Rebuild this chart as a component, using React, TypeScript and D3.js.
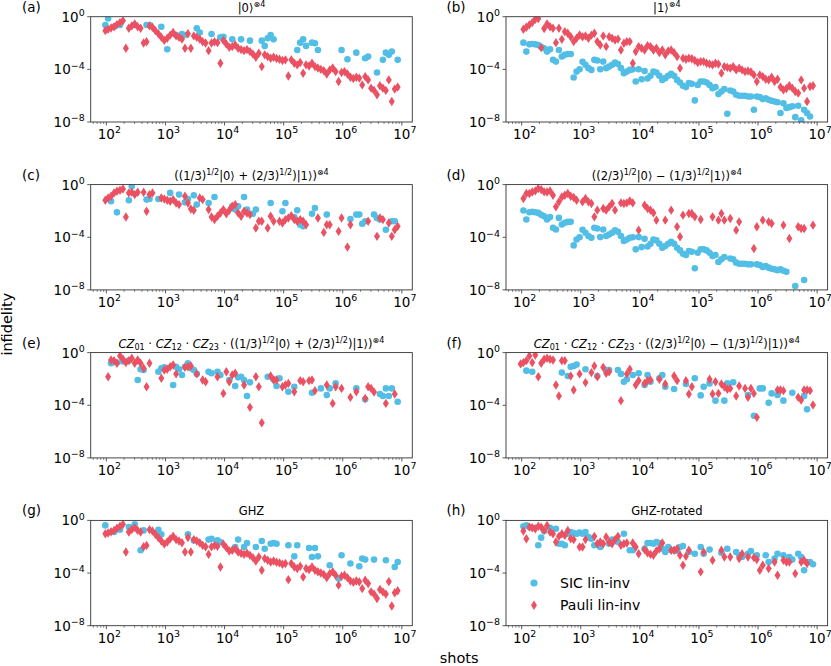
import React from "react";
import * as d3 from "d3";

// Shot counts (shared x grid)
const SHOTS: number[] = [
  96, 107, 120, 135, 151, 170, 191, 214, 240, 269, 302, 339, 380, 427, 479, 537, 603, 676, 759, 851,
  955, 1072, 1202, 1349, 1514, 1698, 1905, 2138, 2399, 2692, 3020, 3388, 3802, 4266, 4786, 5370, 6026, 6761, 7586, 8511,
  9550, 10715, 12023, 13490, 15136, 16982, 19055, 21380, 23988, 26915, 30200, 33884, 38019, 42658, 47863, 53703, 60256, 67608, 75858, 85114,
  95499, 107152, 120226, 134896, 151356, 169824, 190546, 213796, 239883, 269153, 301995, 338844, 380189, 426580, 478630, 537032, 602560, 676083, 758578, 851138,
  954993, 1071519, 1202264, 1348963, 1513561, 1698244, 1905461, 2137962, 2398833, 2691535, 3019952, 3388442, 3801894, 4265795, 4786301, 5370318, 6025596, 6760830, 7585776, 8511380,
];

// Series values: log10(infidelity). Dense = one value per shot index (null = not shown),
// Sparse = [shot index, log10(infidelity)] pairs.
type Dense = (number | null)[];
type Sparse = [number, number][];

const A_PAULI: Dense = [
  -1.06, -0.96, -0.86, -0.76, -0.6, -0.45, -0.3, -2.4, -0.88, -0.7,
  -0.55, -0.76, -0.88, -2.0, -1.9, -0.7, -0.8, -1.06, -1.3, -1.56,
  -1.8, -1.64, -1.4, -1.2, -1.46, -1.56, -1.7, -2.4, -1.3, -2.4,
  -1.46, -1.56, -1.7, -1.9, -2.0, -2.58, -2.0, -1.9, -1.97, -3.54,
  -1.8, -2.07, -2.32, -2.27, -2.15, -2.4, -2.5, -2.58, -2.5, -2.65,
  -2.83, -3.08, -2.78, -3.79, -2.9, -3.03, -3.16, -3.08, -3.18, -3.23,
  -3.33, -3.28, -4.5, -3.28, -3.54, -3.66, -3.48, -4.3, -3.66, -3.74,
  -3.54, -3.79, -3.9, -4.0, -4.1, -4.35, -4.04, -3.9, -4.17, -4.92,
  -4.24, -4.17, -4.35, -4.6, -4.7, -4.6, -4.67, -5.18, -4.55, -4.8,
  -5.43, -5.6, -5.93, -5.25, -5.43, -5.6, -4.8, -6.44, -5.5, -5.35,
];
const A_SIC: Sparse = [
  [0, -0.63], [1, -0.13], [3, -0.76], [5, -0.63], [10, -0.63], [14, -0.63], [15, -0.63], [19, -0.76],
  [21, -2.47], [24, -1.39], [26, -1.31], [27, -1.39], [31, -0.88], [32, -1.2], [36, -1.32], [39, -1.57],
  [40, -1.52], [43, -1.72], [46, -1.72], [49, -1.82], [53, -1.82], [54, -2.22], [55, -1.64], [56, -1.39],
  [57, -1.72], [65, -2.53], [66, -1.97], [67, -1.72], [68, -2.22], [70, -1.97], [71, -2.02], [72, -2.53],
  [80, -2.53], [82, -3.23], [85, -2.73], [88, -3.16], [89, -3.03], [92, -4.24], [94, -3.28], [95, -2.73],
  [96, -2.9], [97, -2.65], [99, -3.28],
];

const B_SIC: Dense = [
  null, -1.97, -2.65, -2.1, -2.07, -2.1, -2.15, -2.3, -2.4, -2.65,
  -2.47, -3.28, -3.41, -2.53, -3.03, -2.9, -2.83, -2.83, -4.62, -4.17,
  -4.0, -3.43, -3.66, -3.91, -4.04, -3.28, -3.33, -3.99, -3.41, -3.91,
  -3.79, -3.66, -3.48, -3.59, -3.91, -4.29, -4.17, -4.04, -4.0, -4.92,
  -3.99, -4.75, -4.12, -4.7, -4.49, -4.17, -4.24, -4.49, -4.8, -4.67,
  -4.49, -4.34, -4.49, -4.8, -5.0, -5.25, -5.35, -5.05, -5.1, -6.36,
  -5.18, -4.92, -4.92, -5.0, -5.18, -5.43, -5.35, -5.88, -5.68, -5.5,
  -7.37, -5.61, -5.68, -5.93, -6.01, -6.01, -6.01, -6.06, -6.06, -7.07,
  -6.06, -6.11, -6.26, -6.19, -6.31, -6.39, -6.44, -6.5, -7.32, -6.57,
  -6.94, -6.87, -6.8, -7.63, -6.77, -7.88, -7.07, -7.32, -7.58, null,
];
const B_PAULI: Dense = [
  null, -0.95, -0.8, -0.62, -0.45, -0.2, -0.15, -2.35, -0.9, -0.55,
  -0.76, -0.88, -1.97, -0.88, -1.72, -1.14, -1.26, -1.52, -1.89, -1.64,
  -1.39, -1.52, -1.46, -1.64, -1.4, -1.26, -1.89, -2.15, -1.46, -2.27,
  -1.52, -1.64, -1.77, -1.7, -2.53, -2.02, -1.89, -1.89, -3.54, -2.65,
  -2.27, -2.4, -2.53, -2.2, -2.27, -2.53, -2.4, -2.73, -2.53, -2.9,
  -2.6, -2.53, -2.73, -3.03, -3.91, -3.16, -3.23, -3.16, -3.2, -3.33,
  -3.48, -3.41, -3.41, -3.54, -3.59, -3.66, -3.54, -3.6, -4.29, -3.79,
  -3.85, -3.91, -3.79, -4.04, -3.91, -4.04, -4.17, -4.12, -4.2, -4.42,
  -4.92, -4.42, -4.55, -4.75, -4.8, -4.6, -4.92, -4.75, -5.35, -5.56,
  -5.45, -5.25, -5.43, -5.68, -5.81, -4.8, -5.43, -6.44, -5.3, -5.25,
];

const C_SIC: Sparse = [
  [2, -1.27], [4, -2.11], [8, -1.19], [9, -0.13], [14, -1.14], [15, -1.09], [18, -1.09], [22, -0.63],
  [25, -0.76], [27, -1.35], [28, -1.09], [30, -0.81], [31, -1.52], [35, -1.4], [37, -0.94], [43, -1.65],
  [44, -1.9], [45, -1.65], [47, -0.94], [48, -1.9], [50, -2.21], [51, -1.9], [56, -1.4], [60, -2.03],
  [61, -1.4], [64, -2.46], [65, -1.95], [66, -3.05], [67, -3.17], [70, -2.21], [71, -1.78], [75, -2.28],
  [83, -2.61], [85, -2.28], [86, -2.28], [87, -2.97], [88, -2.79], [91, -2.28], [92, -2.54], [93, -2.66],
  [95, -3.43], [97, -2.79], [98, -2.79],
];
const C_PAULI: Sparse = [
  [0, -1.19], [1, -1.02], [2, -0.89], [3, -0.63], [4, -0.51], [5, -0.43], [6, -0.33], [7, -2.46],
  [8, -0.63], [9, -0.58], [10, -0.76], [11, -0.58], [13, -0.58], [14, -2.03], [15, -0.76], [16, -0.63],
  [19, -1.02], [20, -1.09], [21, -1.19], [22, -1.27], [23, -1.14], [24, -1.4], [25, -1.52], [27, -0.89],
  [28, -1.4], [29, -1.85], [30, -1.95], [32, -1.02], [33, -1.14], [35, -1.9], [36, -2.46], [37, -2.66],
  [38, -2.41], [39, -2.16], [40, -1.9], [41, -2.21], [42, -1.95], [43, -1.65], [44, -1.52], [45, -2.16],
  [46, -2.41], [47, -2.03], [48, -2.16], [49, -2.28], [51, -3.3], [52, -2.79], [53, -2.79], [55, -3.3],
  [56, -2.41], [57, -2.79], [59, -2.79], [60, -2.92], [61, -2.66], [62, -2.54], [63, -2.36], [64, -2.66],
  [65, -2.79], [66, -2.66], [67, -2.79], [68, -3.05], [72, -2.54], [74, -3.63], [75, -3.05], [76, -3.05],
  [79, -3.55], [80, -2.54], [82, -4.75], [83, -3.05], [89, -2.79], [92, -3.93], [93, -2.54], [94, -2.66],
  [96, -2.92], [97, -3.93], [98, -3.43], [99, -3.17],
];

const D_SIC: Dense = [
  null, -1.97, -2.65, -2.1, -2.07, -2.1, -2.15, -2.3, -2.4, -2.65,
  -2.47, -3.28, -3.41, -2.53, -3.03, -2.9, -2.83, -2.83, -4.62, -4.17,
  -4.0, -3.43, -3.66, -3.91, -4.04, -3.28, -3.33, -3.99, -3.41, -3.91,
  -3.79, -3.66, -3.48, -3.59, -3.91, -4.29, -4.17, -4.04, -4.0, -4.92,
  -3.99, -4.75, -4.12, -4.7, -4.49, -4.17, -4.24, -4.49, -4.8, -4.67,
  -4.49, -4.34, -4.49, -4.8, -5.0, -5.25, -5.35, -5.05, -5.1, -6.36,
  -5.18, -4.92, -4.92, -5.0, -5.18, -5.43, -5.35, -5.88, -5.68, -5.5,
  null, -5.61, -5.68, -5.93, -6.01, -6.01, -6.01, -6.06, -6.06, null,
  -6.06, -6.11, -6.26, -6.19, -6.31, -6.39, -6.44, -6.5, -6.44, -6.55,
  -6.62, null, null, -7.7, null, null, -7.25, null, null, null,
];
const D_PAULI: Sparse = [
  [1, -1.06], [2, -0.68], [3, -0.68], [4, -0.56], [5, -0.48], [6, -0.3], [7, -0.38], [8, -0.55],
  [9, -0.56], [10, -0.48], [11, -0.81], [12, -1.69], [13, -1.31], [14, -0.94], [15, -0.81], [16, -0.68],
  [17, -0.88], [18, -0.98], [19, -1.19], [21, -1.31], [22, -1.06], [23, -1.31], [24, -1.44], [25, -2.45],
  [26, -1.94], [28, -1.82], [29, -1.94], [30, -1.69], [31, -1.44], [32, -1.94], [34, -1.39], [35, -1.44],
  [36, -1.39], [37, -1.24], [38, -1.39], [40, -3.46], [42, -1.56], [43, -1.82], [44, -1.94], [45, -2.15],
  [46, -2.7], [49, -2.7], [51, -1.94], [53, -3.2], [54, -3.96], [55, -2.32], [57, -2.2], [58, -2.2],
  [59, -2.45], [61, -2.65], [65, -2.45], [67, -2.7], [68, -2.2], [69, -2.7], [71, -2.58], [73, -3.46],
  [74, -2.83], [79, -4.85], [80, -3.2], [82, -2.7], [84, -2.83], [85, -2.95], [89, -3.08], [91, -4.09],
  [94, -3.2], [95, -3.33], [96, -3.33], [99, -3.08],
];

const E_SIC: Sparse = [
  [2, -0.81], [4, -0.76], [6, -0.68], [8, -0.61], [11, -2.08], [12, -1.27], [13, -1.32], [18, -1.45],
  [19, -1.19], [20, -1.12], [23, -2.46], [24, -1.07], [25, -1.27], [26, -1.7], [27, -1.07], [28, -0.81],
  [29, -1.19], [30, -1.32], [31, -1.62], [35, -1.45], [36, -1.57], [38, -1.45], [39, -1.7], [42, -2.08],
  [44, -2.54], [45, -1.88], [46, -1.83], [47, -2.08], [48, -3.3], [49, -2.26], [55, -1.83], [57, -2.03],
  [58, -2.54], [59, -1.95], [62, -2.97], [64, -2.59], [70, -3.05], [73, -2.72], [75, -3.23], [76, -2.72],
  [78, -2.34], [85, -2.72], [88, -3.55], [93, -3.15], [94, -3.3], [95, -2.72], [96, -3.3], [97, -2.72],
  [99, -3.73],
];
const E_PAULI: Sparse = [
  [1, -1.83], [2, -0.56], [3, -0.61], [4, -0.81], [5, -0.25], [6, -0.51], [7, -0.76], [8, -0.61],
  [9, -0.43], [10, -0.81], [11, -0.56], [12, -0.81], [13, -1.19], [14, -2.59], [15, -0.81], [19, -1.95],
  [20, -1.32], [21, -1.27], [22, -1.07], [23, -0.94], [24, -1.62], [27, -1.12], [28, -1.07], [29, -1.02],
  [31, -1.62], [33, -2.08], [34, -2.21], [38, -1.83], [40, -3.1], [41, -1.45], [42, -2.21], [43, -1.7],
  [44, -1.57], [47, -2.46], [49, -4.16], [51, -1.83], [52, -2.59], [53, -5.33], [56, -1.78], [57, -2.08],
  [58, -2.08], [60, -2.59], [61, -2.46], [62, -2.34], [64, -2.97], [66, -2.13], [67, -2.21], [69, -2.13],
  [70, -2.08], [71, -2.89], [75, -2.46], [77, -3.86], [78, -2.59], [80, -2.72], [83, -3.4], [85, -2.97],
  [88, -3.48], [89, -2.59], [90, -2.72], [91, -3.0], [95, -3.86], [98, -3.15],
];

const F_SIC: Sparse = [
  [2, -1.37], [4, -1.45], [14, -1.52], [16, -1.78], [17, -1.07], [18, -1.02], [19, -0.91], [22, -1.27],
  [26, -1.78], [29, -1.32], [30, -1.32], [33, -1.32], [34, -1.62], [35, -2.21], [36, -2.03], [38, -1.7],
  [40, -1.57], [42, -2.46], [43, -1.7], [44, -2.21], [47, -1.95], [48, -1.7], [49, -2.59], [52, -2.77],
  [56, -2.39], [59, -1.95], [61, -3.25], [62, -2.59], [64, -2.34], [66, -3.65], [69, -3.65], [70, -2.34],
  [72, -2.26], [77, -3.22], [79, -4.8], [81, -2.72], [82, -2.72], [84, -3.81], [85, -3.1], [87, -3.22],
  [89, -3.65], [92, -3.05], [96, -3.3], [97, -4.31],
];
const F_PAULI: Sparse = [
  [0, -0.86], [1, -0.76], [2, -0.61], [3, -0.25], [4, -0.76], [5, -0.18], [6, -1.83], [7, -0.81],
  [8, -0.51], [9, -0.43], [10, -0.51], [11, -0.56], [12, -2.46], [13, -3.3], [14, -0.61], [15, -0.61],
  [17, -1.78], [18, -2.84], [20, -1.62], [22, -2.28], [24, -1.52], [25, -1.02], [26, -1.83], [28, -1.12],
  [29, -1.57], [30, -1.45], [34, -3.65], [36, -1.62], [37, -1.27], [39, -2.46], [40, -2.13], [42, -2.34],
  [43, -2.13], [44, -2.08], [47, -2.03], [49, -2.39], [52, -1.78], [53, -2.13], [56, -2.13], [57, -3.15],
  [58, -2.59], [64, -2.03], [65, -3.15], [66, -2.21], [67, -3.1], [68, -2.39], [69, -2.59], [70, -2.79],
  [71, -2.72], [73, -3.3], [74, -2.54], [76, -2.72], [77, -3.4], [78, -2.72], [79, -3.1], [80, -4.92],
  [87, -2.84], [88, -2.84], [89, -2.89], [94, -3.4], [95, -3.6], [96, -2.84], [97, -2.84], [98, -2.89],
  [99, -3.98],
];

const G_SIC: Sparse = [
  [0, -0.38], [3, -0.88], [5, -0.71], [8, -0.51], [10, -0.3], [12, -2.27], [13, -0.76], [18, -0.71],
  [19, -1.06], [28, -1.06], [30, -1.52], [35, -1.46], [36, -1.39], [38, -1.52], [39, -1.64], [44, -2.02],
  [45, -1.46], [47, -2.02], [48, -1.72], [51, -2.02], [53, -1.57], [54, -2.15], [56, -1.77], [57, -1.72],
  [58, -1.77], [62, -1.89], [64, -2.73], [65, -1.89], [69, -2.1], [70, -2.78], [71, -2.1], [72, -2.73],
  [76, -3.41], [79, -4.42], [80, -2.65], [83, -3.28], [86, -3.48], [87, -2.9], [88, -2.98], [91, -2.98],
  [95, -3.03], [98, -3.54], [99, -3.16],
];
const G_PAULI: Dense = [
  -1.01, -0.96, -0.86, -0.76, -0.6, -0.45, -0.3, -2.4, -0.88, -0.7,
  -0.55, -0.76, -0.88, -2.0, -1.9, -0.7, -0.8, -1.06, -1.3, -1.56,
  -1.8, -1.64, -1.4, -1.2, -1.46, -1.56, -1.7, -2.4, -1.3, -2.4,
  -1.46, -1.56, -1.7, -1.9, -2.0, -2.58, -2.0, -1.9, -1.97, -3.54,
  -1.8, -2.07, -2.32, -2.27, -2.15, -2.4, -2.5, -2.58, -2.5, -2.65,
  -2.83, -3.08, -2.78, -3.79, -2.9, -3.03, -3.16, -3.08, -3.18, -3.23,
  -3.33, -3.28, -4.5, -3.28, -3.54, -3.66, -3.48, -4.3, -3.66, -3.74,
  -3.54, -3.79, -3.9, -4.0, -4.1, -4.35, -4.04, -3.9, -4.17, -4.92,
  -4.24, -4.17, -4.35, -4.6, -4.7, -4.6, -4.67, -5.18, -4.55, -4.8,
  -5.43, -5.6, -5.93, -5.25, -5.43, -5.6, -4.65, -6.5, -5.5, -5.35,
];

const H_SIC: Sparse = [
  [1, -0.45], [2, -0.38], [3, -0.51], [4, -0.56], [6, -1.89], [7, -1.31], [8, -0.81], [10, -0.56],
  [12, -0.63], [13, -1.77], [14, -1.77], [15, -1.89], [16, -1.01], [17, -0.88], [18, -0.96], [19, -1.01],
  [20, -0.93], [21, -1.01], [22, -0.88], [23, -1.26], [24, -1.39], [25, -1.89], [27, -2.02], [30, -1.77],
  [31, -1.46], [33, -1.64], [35, -1.01], [37, -2.27], [38, -2.27], [42, -2.15], [43, -1.72], [44, -1.72],
  [45, -1.77], [46, -1.64], [47, -1.72], [48, -2.15], [49, -2.4], [50, -2.02], [51, -2.27], [52, -2.27],
  [53, -2.32], [54, -2.02], [55, -1.94], [57, -2.4], [59, -2.53], [61, -2.02], [62, -2.53], [64, -2.22],
  [68, -2.45], [70, -2.15], [73, -2.4], [74, -2.65], [75, -2.78], [77, -2.53], [78, -2.32], [80, -2.65],
  [83, -2.65], [84, -3.16], [86, -2.9], [87, -2.53], [89, -2.65], [91, -2.78], [92, -2.98], [94, -2.53],
  [95, -2.78], [96, -3.79], [97, -3.16], [98, -3.16], [99, -3.33],
];
const H_PAULI: Sparse = [
  [1, -0.81], [2, -1.39], [3, -0.51], [4, -0.56], [5, -0.63], [6, -0.45], [7, -0.51], [8, -0.76],
  [9, -0.38], [10, -0.88], [11, -1.01], [12, -1.64], [13, -1.21], [14, -1.01], [15, -1.14], [16, -0.76],
  [17, -1.39], [18, -1.46], [20, -2.02], [21, -2.02], [22, -1.46], [25, -1.21], [26, -1.77], [27, -1.64],
  [28, -1.77], [29, -1.26], [30, -1.64], [31, -1.77], [32, -1.46], [33, -1.21], [34, -1.89], [35, -1.77],
  [36, -1.72], [38, -1.72], [39, -2.02], [40, -2.53], [42, -2.22], [43, -2.47], [44, -2.58], [45, -2.65],
  [46, -2.32], [47, -2.15], [48, -1.72], [51, -2.27], [52, -2.27], [53, -2.15], [54, -2.65], [55, -3.41],
  [56, -2.73], [57, -2.27], [61, -3.91], [62, -2.4], [65, -3.03], [68, -2.27], [69, -2.78], [71, -2.78],
  [74, -2.9], [75, -2.53], [77, -2.78], [79, -2.83], [80, -2.98], [81, -3.79], [82, -3.41], [84, -3.66],
  [86, -3.16], [87, -4.17], [89, -3.03], [90, -3.16], [91, -3.16], [93, -4.04], [95, -3.16], [96, -3.03],
  [97, -3.28],
];

// Y ticks (log10) and labels
const Y_TICKS = [0, -4, -8];
const LEGEND_LABELS = ["SIC lin-inv", "Pauli lin-inv"];
const PANEL_LABELS = ["(a)", "(b)", "(c)", "(d)", "(e)", "(f)", "(g)", "(h)"];

type Seg = { t: string; k?: "sup" | "sub" | "it" };
const TITLES: Seg[][] = [
  [{ t: "|0⟩" }, { t: "⊗4", k: "sup" }],
  [{ t: "|1⟩" }, { t: "⊗4", k: "sup" }],
  [{ t: "((1/3)" }, { t: "1/2", k: "sup" }, { t: "|0⟩ + (2/3)" }, { t: "1/2", k: "sup" }, { t: ")|1⟩)" }, { t: "⊗4", k: "sup" }],
  [{ t: "((2/3)" }, { t: "1/2", k: "sup" }, { t: "|0⟩ − (1/3)" }, { t: "1/2", k: "sup" }, { t: "|1⟩)" }, { t: "⊗4", k: "sup" }],
  [
    { t: "CZ", k: "it" }, { t: "01", k: "sub" }, { t: " · " }, { t: "CZ", k: "it" }, { t: "12", k: "sub" }, { t: " · " },
    { t: "CZ", k: "it" }, { t: "23", k: "sub" }, { t: " · ((1/3)" }, { t: "1/2", k: "sup" }, { t: "|0⟩ + (2/3)" },
    { t: "1/2", k: "sup" }, { t: ")|1⟩)" }, { t: "⊗4", k: "sup" },
  ],
  [
    { t: "CZ", k: "it" }, { t: "01", k: "sub" }, { t: " · " }, { t: "CZ", k: "it" }, { t: "12", k: "sub" }, { t: " · " },
    { t: "CZ", k: "it" }, { t: "23", k: "sub" }, { t: " · ((2/3)" }, { t: "1/2", k: "sup" }, { t: "|0⟩ − (1/3)" },
    { t: "1/2", k: "sup" }, { t: ")|1⟩)" }, { t: "⊗4", k: "sup" },
  ],
  [{ t: "GHZ" }],
  [{ t: "GHZ-rotated" }],
];
const SIC_SERIES: (Dense | Sparse)[] = [A_SIC, B_SIC, C_SIC, D_SIC, E_SIC, F_SIC, G_SIC, H_SIC];
const PAULI_SERIES: (Dense | Sparse)[] = [A_PAULI, B_PAULI, C_PAULI, D_PAULI, E_PAULI, F_PAULI, G_PAULI, H_PAULI];

// ---------- styling / layout ----------
const W = 831;
const H = 666;
const FONT = "'DejaVu Sans', sans-serif";
const BLUE = "#52BEE6";
const RED = "#EA5162";
const AXIS = "#333333";
const COL_X = [90.7, 506.0];
const ROW_Y = [16.7, 184.6, 352.6, 520.4];
const PW = 321.6;
const PH = 105.3;
const TICK_FS = 13.5;
const TITLE_FS = 11.5;

function toPoints(s: Dense | Sparse): [number, number][] {
  if (s.length && Array.isArray(s[0])) return s as Sparse;
  const out: [number, number][] = [];
  (s as Dense).forEach((v, i) => {
    if (v !== null && v !== undefined) out.push([i, v]);
  });
  return out;
}

const diamond = (x: number, y: number, hw = 3.0, hh = 4.7) =>
  `M${x},${y - hh}L${x + hw},${y}L${x},${y + hh}L${x - hw},${y}Z`;

function Pow10({ x, y, exp, anchor }: { x: number; y: number; exp: number; anchor: "end" | "middle" }) {
  const e = exp < 0 ? `−${Math.abs(exp)}` : `${exp}`;
  return (
    <text x={x} y={y} textAnchor={anchor} fontSize={TICK_FS} fontFamily={FONT} fill="#000">
      10
      <tspan fontSize={TICK_FS * 0.7} dy={-5.6}>{e}</tspan>
    </text>
  );
}

function Title({ segs, x, y }: { segs: Seg[]; x: number; y: number }) {
  let cur = 0;
  return (
    <text x={x} y={y} textAnchor="middle" fontSize={TITLE_FS} fontFamily={FONT} fill="#000">
      {segs.map((s, i) => {
        const target = s.k === "sup" ? -4.3 : s.k === "sub" ? 2.4 : 0;
        const dy = target - cur;
        cur = target;
        const small = s.k === "sup" || s.k === "sub";
        return (
          <tspan
            key={i}
            dy={dy}
            fontSize={small ? TITLE_FS * 0.7 : TITLE_FS}
            fontStyle={s.k === "it" ? "italic" : "normal"}
            style={{ whiteSpace: "pre" }}
          >
            {s.t}
          </tspan>
        );
      })}
    </text>
  );
}

function Panel({ idx }: { idx: number }) {
  const col = idx % 2;
  const row = Math.floor(idx / 2);
  const x0 = COL_X[col];
  const y0 = ROW_Y[row];

  const logs = SHOTS.map((s) => Math.log10(s));
  const lo = d3.min(logs) as number;
  const hi = d3.max(logs) as number;
  const m = (hi - lo) * 0.05;
  const x = d3.scaleLog().domain([Math.pow(10, lo - m), Math.pow(10, hi + m)]).range([x0, x0 + PW]);
  const y = d3.scaleLog().domain([1e-8, 1]).range([y0 + PH, y0]);

  const [d0, d1] = x.domain().map((v) => Math.log10(v));
  const major: number[] = [];
  const minor: number[] = [];
  for (let d = Math.floor(d0); d <= Math.ceil(d1); d++) {
    for (let k = 1; k <= 9; k++) {
      const v = k * Math.pow(10, d);
      const lv = Math.log10(v);
      if (lv < d0 || lv > d1) continue;
      (k === 1 ? major : minor).push(v);
    }
  }

  const sic = toPoints(SIC_SERIES[idx]);
  const pauli = toPoints(PAULI_SERIES[idx]);
  const clipId = `clip-${idx}`;
  const bottom = y0 + PH;

  return (
    <g>
      <defs>
        <clipPath id={clipId}>
          <rect x={x0} y={y0} width={PW} height={PH} />
        </clipPath>
      </defs>
      <g clipPath={`url(#${clipId})`}>
        {sic.map(([i, v], k) => (
          <circle key={`s${k}`} cx={x(SHOTS[i])} cy={y(Math.pow(10, v))} r={3.3} fill={BLUE} />
        ))}
        {pauli.map(([i, v], k) => (
          <path key={`p${k}`} d={diamond(x(SHOTS[i]), y(Math.pow(10, v)))} fill={RED} />
        ))}
      </g>
      <rect x={x0} y={y0} width={PW} height={PH} fill="none" stroke={AXIS} strokeWidth={0.9} />
      {minor.map((v, k) => (
        <line key={`mn${k}`} x1={x(v)} x2={x(v)} y1={bottom} y2={bottom + 2} stroke={AXIS} strokeWidth={0.6} />
      ))}
      {major.map((v, k) => (
        <g key={`mj${k}`}>
          <line x1={x(v)} x2={x(v)} y1={bottom} y2={bottom + 3.5} stroke={AXIS} strokeWidth={0.8} />
          <Pow10 x={x(v) + 3} y={bottom + 17} exp={Math.round(Math.log10(v))} anchor="middle" />
        </g>
      ))}
      {Y_TICKS.map((e) => {
        const yy = y(Math.pow(10, e));
        return (
          <g key={`y${e}`}>
            <line x1={x0 - 3.5} x2={x0} y1={yy} y2={yy} stroke={AXIS} strokeWidth={0.8} />
            <Pow10 x={x0 - 6} y={yy + 5} exp={e} anchor="end" />
          </g>
        );
      })}
      <text x={col === 0 ? 22 : 446.5} y={y0 - 5.0} fontSize={13.5} fontFamily={FONT} fill="#000">
        {PANEL_LABELS[idx]}
      </text>
      <Title segs={TITLES[idx]} x={x0 + PW / 2} y={y0 - 5.0} />
      {idx === 7 && (
        <g>
          <circle cx={x0 + 28} cy={y0 + 62.6} r={3.6} fill={BLUE} />
          <text x={x0 + 54} y={y0 + 67.6} fontSize={14} fontFamily={FONT} fill="#000">
            {LEGEND_LABELS[0]}
          </text>
          <path d={diamond(x0 + 28, y0 + 84.8, 3.0, 4.8)} fill={RED} />
          <text x={x0 + 54} y={y0 + 89.8} fontSize={14} fontFamily={FONT} fill="#000">
            {LEGEND_LABELS[1]}
          </text>
        </g>
      )}
    </g>
  );
}

export default function App() {
  const midX = (COL_X[0] + COL_X[1] + PW) / 2;
  const midY = (ROW_Y[0] + ROW_Y[3] + PH) / 2;
  return (
    <svg
      width={W}
      height={H}
      viewBox={`0 0 ${W} ${H}`}
      style={{ position: "absolute", left: 0, top: 0, background: "#fff" }}
    >
      <rect x={0} y={0} width={W} height={H} fill="#fff" />
      {PANEL_LABELS.map((_, i) => (
        <Panel key={i} idx={i} />
      ))}
      <text
        transform={`translate(12, ${midY + 3}) rotate(-90)`}
        textAnchor="middle"
        fontSize={14.5}
        fontFamily={FONT}
        fill="#000"
      >
        infidelity
      </text>
      <text x={midX} y={663} textAnchor="middle" fontSize={14.5} fontFamily={FONT} fill="#000">
        shots
      </text>
    </svg>
  );
}
